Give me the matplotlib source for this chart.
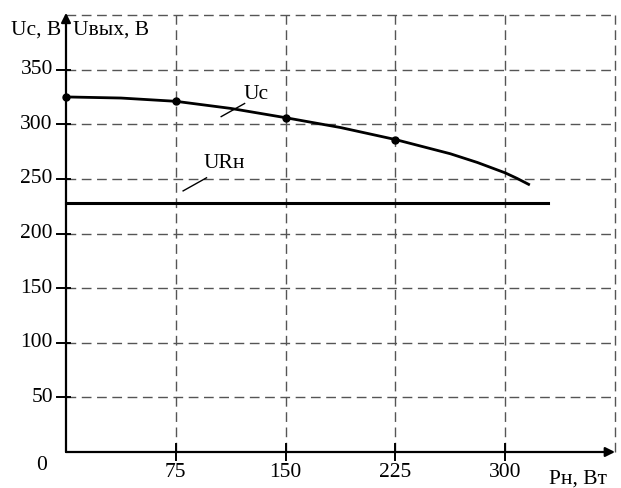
import matplotlib
matplotlib.use("Agg")
import matplotlib.pyplot as plt

plt.rcParams['font.family'] = ['Liberation Serif', 'DejaVu Serif']

# Data
uc_x = [0, 37.5, 75, 112.5, 150, 187.5, 225, 262.5, 281, 300, 308, 316]
uc_y = [325, 324, 321, 314.5, 306, 297, 286, 273, 265, 255.5, 250.5, 245]
marker_x = [0, 75, 150, 225]
marker_y = [325, 321, 306, 286]
ur_x = [0, 329]
ur_y = [227.5, 227.5]
x_ticks = [75, 150, 225, 300]
y_ticks = [50, 100, 150, 200, 250, 300, 350]
x_grid = [75, 150, 225, 300, 375]
y_grid = [50, 100, 150, 200, 250, 300, 350, 400]

fig = plt.figure(figsize=(6.21, 4.88), dpi=100)
ax = fig.add_axes([66/621, 36/488, 549/621, 437/488])
ax.set_xlim(0, 375)
ax.set_ylim(0, 400)
for s in ax.spines.values():
    s.set_visible(False)
ax.set_xticks([])
ax.set_yticks([])

gc = '#555555'
for gx in x_grid:
    ax.plot([gx, gx], [0, 400], ls=(0, (7, 4)), color=gc, lw=1.0, clip_on=False)
for gy in y_grid:
    ax.plot([0, 375], [gy, gy], ls=(0, (7, 4)), color=gc, lw=1.0, clip_on=False)

# axes with arrows
ax.annotate('', xy=(375, 0), xytext=(0, 0),
            arrowprops=dict(arrowstyle='-|>', color='black', lw=1.6, mutation_scale=14,
                            shrinkA=0, shrinkB=0), annotation_clip=False)
ax.annotate('', xy=(0, 402), xytext=(0, 0),
            arrowprops=dict(arrowstyle='-|>', color='black', lw=1.6, mutation_scale=14,
                            shrinkA=0, shrinkB=0), annotation_clip=False)

# tick marks
for t in x_ticks:
    ax.plot([t, t], [-7, 7], color='black', lw=1.4, clip_on=False)
for t in y_ticks:
    ax.plot([-6, 3], [t, t], color='black', lw=1.4, clip_on=False)

fs = 15.5
for t in x_ticks:
    ax.text(t, -19, str(t), ha='center', va='center', fontsize=fs)
for t in y_ticks:
    ax.text(-9, t, str(t), ha='right', va='center', fontsize=fs)
ax.text(-13, -12, '0', ha='right', va='center', fontsize=fs)

# curves
ax.plot(uc_x, uc_y, color='black', lw=2.0, clip_on=False)
ax.plot(marker_x, marker_y, 'o', color='black', ms=5, clip_on=False)
ax.plot(ur_x, ur_y, color='black', lw=2.2, clip_on=False)

# labels
ax.text(121, 327, 'Uc', fontsize=fs, ha='left', va='center')
ax.plot([106, 122], [307, 319], color='black', lw=1.0)
ax.text(94, 264, 'URн', fontsize=fs, ha='left', va='center')
ax.plot([80, 96], [239, 251], color='black', lw=1.0)

ax.text(-20.5, 386, 'Uc, B', fontsize=fs, ha='center', va='center')
ax.text(30.5, 386, 'Uвых, B', fontsize=fs, ha='center', va='center')
ax.text(350, -25, 'Pн, Вт', fontsize=fs, ha='center', va='center')

fig.savefig('out.png', dpi=100)
